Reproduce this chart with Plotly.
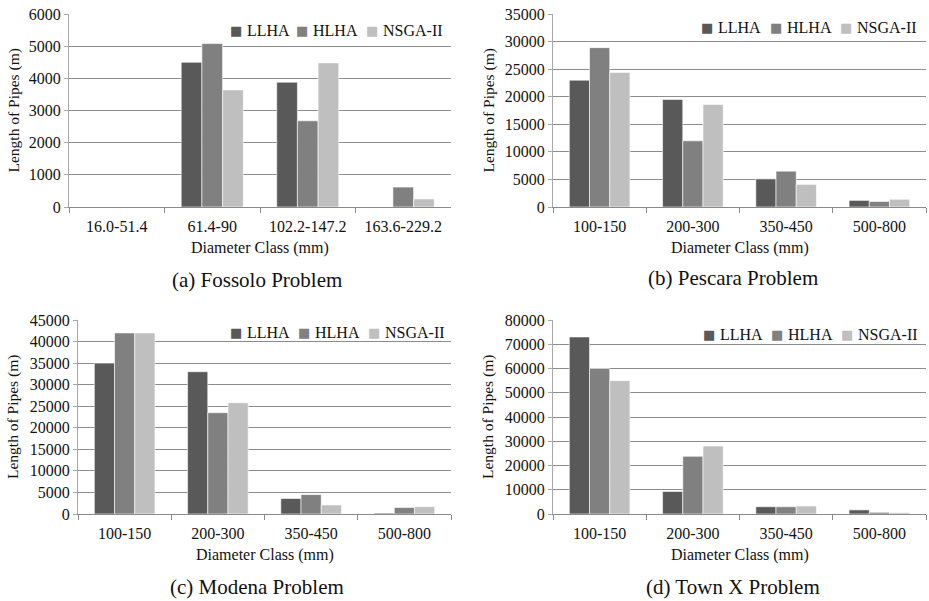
import plotly.graph_objects as go

series_names = ["LLHA", "HLHA", "NSGA-II"]
series_colors = ["#595959", "#808080", "#bfbfbf"]

cats_a = ["16.0-51.4", "61.4-90", "102.2-147.2", "163.6-229.2"]
a_llha = [0, 4500, 3880, 0]
a_hlha = [0, 5080, 2680, 620]
a_nsga = [0, 3640, 4480, 250]

cats_b = ["100-150", "200-300", "350-450", "500-800"]
b_llha = [23000, 19500, 5100, 1200]
b_hlha = [28900, 12000, 6500, 1000]
b_nsga = [24400, 18600, 4100, 1400]

cats_c = ["100-150", "200-300", "350-450", "500-800"]
c_llha = [35000, 33000, 3600, 200]
c_hlha = [42000, 23500, 4500, 1500]
c_nsga = [42000, 25800, 2100, 1700]

cats_d = ["100-150", "200-300", "350-450", "500-800"]
d_llha = [73000, 9300, 3000, 1700]
d_hlha = [60000, 23800, 3000, 700]
d_nsga = [55000, 28000, 3300, 600]

captions = ["(a) Fossolo Problem", "(b) Pescara Problem", "(c) Modena Problem", "(d) Town X Problem"]
y_ranges = [(0, 6000, 1000), (0, 35000, 5000), (0, 45000, 5000), (0, 80000, 10000)]

W, H = 929, 601
FONT = "Liberation Serif"

def px_x(p):
    return p / W

def px_y(p):
    return 1 - p / H

# panel pixel boxes: (left, right, top, bottom)
boxes = [
    (69, 451, 14, 207),
    (553, 926, 14, 207),
    (78, 451, 320, 514),
    (553, 926, 320, 514),
]
# legend text start x for each series, and legend row y, per panel
legend_text_x = [(247, 313, 383), (718, 787, 857), (247, 315, 385), (720, 788, 858)]
legend_y = [31, 28, 333, 335]
ytitle_x = [13, 488, 13, 488]
caption_pos = [(257, 280), (733, 278), (257, 587), (733, 587)]

panels = [
    (cats_a, [a_llha, a_hlha, a_nsga]),
    (cats_b, [b_llha, b_hlha, b_nsga]),
    (cats_c, [c_llha, c_hlha, c_nsga]),
    (cats_d, [d_llha, d_hlha, d_nsga]),
]

fig = go.Figure()
layout = dict(
    width=W, height=H,
    margin=dict(l=0, r=0, t=0, b=0, pad=0, autoexpand=False),
    paper_bgcolor="white", plot_bgcolor="white",
    font=dict(family=FONT, color="#111111", size=15),
    barmode="group", bargap=0.35, bargroupgap=0.0,
    showlegend=False,
)
annotations = []

for i, (cats, vals) in enumerate(panels):
    n = i + 1
    xa = "x" if n == 1 else f"x{n}"
    ya = "y" if n == 1 else f"y{n}"
    for k, (name, color, v) in enumerate(zip(series_names, series_colors, vals)):
        fig.add_trace(go.Bar(
            x=cats, y=v, name=name, xaxis=xa, yaxis=ya,
            marker=dict(color=color, line=dict(color="white", width=0.6)),
        ))
        # legend: colour swatch + series name
        tx = legend_text_x[i][k]
        annotations.append(dict(
            text="\u25A0", xref="paper", yref="paper",
            x=px_x(tx - 3), y=px_y(legend_y[i]),
            xanchor="right", yanchor="middle", showarrow=False,
            font=dict(family="DejaVu Sans", size=13, color=color),
        ))
        annotations.append(dict(
            text=name, xref="paper", yref="paper",
            x=px_x(tx - 2), y=px_y(legend_y[i]),
            xanchor="left", yanchor="middle", showarrow=False,
            font=dict(family=FONT, size=16, color="#111111"),
        ))
    l, r, t, b = boxes[i]
    ymin, ymax, dt = y_ranges[i]
    layout[f"xaxis{'' if n == 1 else n}"] = dict(
        domain=[px_x(l), px_x(r)], anchor=ya,
        showline=True, linecolor="#8a8a8a", linewidth=1,
        ticks="outside", tickson="boundaries", ticklen=5, tickcolor="#8a8a8a",
        ticklabelstandoff=5,
        tickfont=dict(family=FONT, size=16, color="#111111"),
        showgrid=False, fixedrange=True, automargin=False,
    )
    layout[f"yaxis{'' if n == 1 else n}"] = dict(
        domain=[px_y(b), px_y(t)], anchor=xa,
        range=[ymin, ymax], dtick=dt, tickformat="d",
        showline=True, linecolor="#a8a8a8", linewidth=1,
        ticks="outside", ticklen=4, tickcolor="#a8a8a8",
        showgrid=True, gridcolor="#8c8c8c", gridwidth=1,
        zeroline=False,
        tickfont=dict(family=FONT, size=16, color="#111111"),
        fixedrange=True, automargin=False,
    )
    annotations.append(dict(
        text="Length of Pipes (m)", xref="paper", yref="paper",
        x=px_x(ytitle_x[i]), y=(px_y(t) + px_y(b)) / 2,
        textangle=-90, showarrow=False, xanchor="center", yanchor="middle",
        font=dict(family=FONT, size=15.5, color="#111111"),
    ))
    annotations.append(dict(
        text="Diameter Class (mm)", xref="paper", yref="paper",
        x=(px_x(l) + px_x(r)) / 2, y=px_y(b + 41),
        showarrow=False, xanchor="center", yanchor="middle",
        font=dict(family=FONT, size=16, color="#111111"),
    ))
    cx, cy = caption_pos[i]
    annotations.append(dict(
        text=captions[i], xref="paper", yref="paper",
        x=px_x(cx), y=px_y(cy),
        showarrow=False, xanchor="center", yanchor="middle",
        font=dict(family=FONT, size=21, color="#111111"),
    ))

layout["annotations"] = annotations
fig.update_layout(**layout)
fig.write_html(
    "out.html",
    config={"displayModeBar": False},
    post_script="document.body.style.margin='0';document.body.style.overflow='hidden';",
)
